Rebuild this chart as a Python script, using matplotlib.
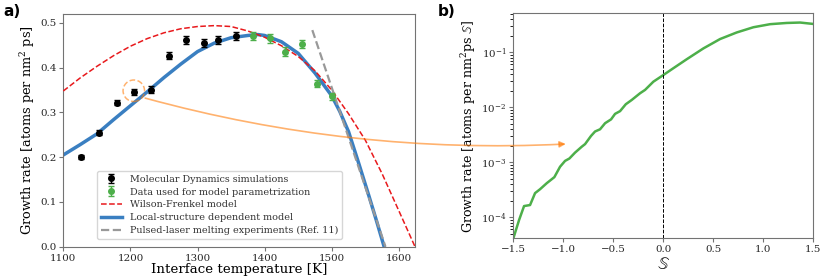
import numpy as np
import matplotlib.pyplot as plt
from matplotlib.patches import Ellipse, ConnectionPatch

plt.rcParams['font.family'] = 'DejaVu Serif'
plt.rcParams['mathtext.fontset'] = 'dejavuserif'

# MD simulation points (black)
md_T = [1127, 1153, 1180, 1205, 1230, 1257, 1283, 1309, 1331, 1357]
md_rate = [0.200, 0.255, 0.322, 0.346, 0.351, 0.427, 0.461, 0.455, 0.462, 0.471]
md_err = [0.004, 0.005, 0.005, 0.006, 0.007, 0.007, 0.009, 0.008, 0.009, 0.009]

# points used for the parametrization (green)
fit_T = [1382, 1408, 1431, 1456, 1478, 1501]
fit_rate = [0.471, 0.466, 0.436, 0.452, 0.364, 0.336]
fit_err = [0.009, 0.010, 0.010, 0.009, 0.008, 0.008]

# Wilson-Frenkel model
wf_T = [1100, 1125, 1150, 1175, 1200, 1225, 1250, 1275, 1300, 1325, 1350, 1375,
        1400, 1425, 1450, 1475, 1500, 1525, 1550, 1575, 1600, 1624]
wf_rate = [0.348, 0.377, 0.403, 0.427, 0.448, 0.465, 0.478, 0.487, 0.492, 0.494,
           0.492, 0.482, 0.468, 0.449, 0.425, 0.393, 0.350, 0.297, 0.238, 0.163,
           0.080, 0.0]

# local-structure dependent model
ls_T = [1100, 1125, 1150, 1175, 1200, 1225, 1250, 1275, 1300, 1325, 1350, 1375,
        1390, 1400, 1425, 1450, 1475, 1500, 1512, 1525, 1540, 1555, 1567, 1578]
ls_rate = [0.205, 0.228, 0.252, 0.284, 0.315, 0.346, 0.378, 0.408, 0.436, 0.455,
           0.467, 0.472, 0.474, 0.472, 0.458, 0.432, 0.388, 0.337, 0.302, 0.257,
           0.187, 0.115, 0.056, 0.0]

# pulsed-laser melting experiments
exp_T = [1471, 1580]
exp_rate = [0.484, 0.0]

# panel b: growth rate per S
s_vals = [-1.5, -1.443, -1.393, -1.333, -1.283, -1.233, -1.166, -1.09, -1.033, -0.983,
          -0.94, -0.883, -0.816, -0.783, -0.723, -0.683, -0.633, -0.583, -0.523, -0.483,
          -0.433, -0.376, -0.316, -0.233, -0.183, -0.1, 0.0, 0.1, 0.233, 0.4,
          0.567, 0.733, 0.9, 1.067, 1.233, 1.367, 1.5]
s_rate = [4.15e-5, 8.9e-5, 1.60e-4, 1.67e-4, 2.75e-4, 3.24e-4, 4.17e-4, 5.37e-4, 8.3e-4, 1.06e-3,
          1.17e-3, 1.50e-3, 1.92e-3, 2.14e-3, 3.02e-3, 3.63e-3, 3.98e-3, 5.13e-3, 6.03e-3, 7.59e-3,
          8.51e-3, 1.135e-2, 1.36e-2, 1.80e-2, 2.07e-2, 2.92e-2, 3.86e-2, 5.13e-2, 7.46e-2, 0.1175,
          0.174, 0.229, 0.285, 0.324, 0.341, 0.347, 0.327]

spine_col = '0.45'

fig = plt.figure(figsize=(8.3, 2.77), dpi=100)
ax1 = fig.add_axes([0.0763, 0.1094, 0.4237, 0.8401])
ax2 = fig.add_axes([0.6185, 0.1397, 0.3615, 0.8123])

for ax in (ax1, ax2):
    for s in ax.spines.values():
        s.set_color(spine_col)
    ax.tick_params(colors=spine_col, labelcolor='0.15', labelsize=7.4, length=3, pad=2)

# ---- panel a ----
h_md = ax1.errorbar(md_T, md_rate, yerr=md_err, fmt='o', color='k', ms=4,
                    capsize=2, elinewidth=1, zorder=4)
h_fit = ax1.errorbar(fit_T, fit_rate, yerr=fit_err, fmt='o', color='#4daf4a', ms=4,
                     capsize=2, elinewidth=1, zorder=4)
h_wf, = ax1.plot(wf_T, wf_rate, '--', color='#e8191c', lw=1.1, zorder=3)
h_ls, = ax1.plot(ls_T, ls_rate, '-', color='#3a7fc1', lw=2.5, zorder=2)
h_exp, = ax1.plot(exp_T, exp_rate, '--', color='#999999', lw=1.6, zorder=3)

circ = Ellipse((1205, 0.3485), width=32, height=0.048, fill=False,
               edgecolor='tab:orange', alpha=0.6, ls='--', lw=1.1, zorder=5)
ax1.add_patch(circ)

ax1.set_xlim(1100, 1624)
ax1.set_ylim(0, 0.52)
ax1.set_xticks([1100, 1200, 1300, 1400, 1500, 1600])
ax1.set_yticks([0.0, 0.1, 0.2, 0.3, 0.4, 0.5])
ax1.set_xlabel('Interface temperature [K]', fontsize=9.6, labelpad=0)
ax1.set_ylabel('Growth rate [atoms per nm$^2$ ps]', fontsize=9.3, labelpad=2)

ax1.legend([h_md, h_fit, h_wf, h_ls, h_exp],
           ['Molecular Dynamics simulations', 'Data used for model parametrization',
            'Wilson-Frenkel model', 'Local-structure dependent model',
            'Pulsed-laser melting experiments (Ref. 11)'],
           loc='lower left', bbox_to_anchor=(0.096, 0.033), borderaxespad=0,
           fontsize=6.9, labelcolor='0.2', handlelength=2.2, labelspacing=0.4)

# ---- panel b ----
ax2.plot(s_vals, s_rate, color='#4daf4a', lw=1.8)
ax2.axvline(0, color='k', ls='--', lw=0.7)
ax2.set_yscale('log')
ax2.set_xlim(-1.5, 1.5)
ax2.set_ylim(4.15e-5, 0.511)
ax2.set_xticks([-1.5, -1.0, -0.5, 0.0, 0.5, 1.0, 1.5])
ax2.set_xlabel(r'$\mathbb{S}$', fontsize=12, labelpad=1.5, color='k')
ax2.set_ylabel(r'Growth rate [atoms per nm$^2$ps $\mathbb{S}$]', fontsize=9.1, labelpad=2)

# connecting arrow between panels
con = ConnectionPatch(xyA=(1222, 0.332), coordsA=ax1.transData,
                      xyB=(-0.975, 2.15e-3), coordsB=ax2.transData,
                      arrowstyle='-|>', connectionstyle='arc3,rad=0.08',
                      color='tab:orange', alpha=0.6, lw=1.2, mutation_scale=9)
fig.add_artist(con)

fig.text(0.004, 0.985, 'a)', fontsize=11, fontweight='bold', family='DejaVu Sans', va='top')
fig.text(0.527, 0.985, 'b)', fontsize=11, fontweight='bold', family='DejaVu Sans', va='top')

fig.savefig('out.png', dpi=100)
